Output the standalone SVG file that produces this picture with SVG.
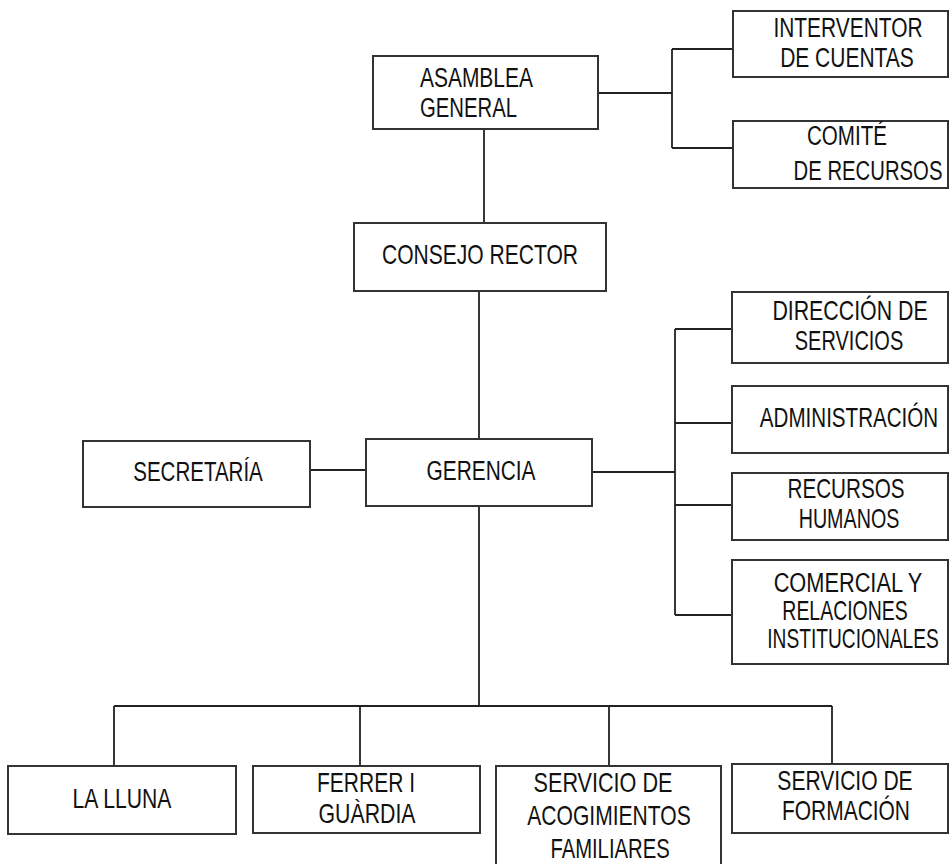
<svg xmlns="http://www.w3.org/2000/svg" width="950" height="864" viewBox="0 0 950 864">
<style>
.box{fill:#fff;stroke:#333;stroke-width:2}
.ln{fill:none;stroke:#222;stroke-width:1.8}
text{font-family:"Liberation Sans",Arial,sans-serif;font-size:27px;fill:#111;text-anchor:middle}
.st{text-anchor:start}
</style>
<rect width="950" height="864" fill="#fff"/>
<g id="connectors" class="ln">
<path d="M598,93H672M672,49V148M672,49H733M672,148H733"/>
<path d="M484,129V223"/>
<path d="M479,291V439"/>
<path d="M310,470H366"/>
<path d="M592,472H675M675,329V615M675,329H732M675,423H732M675,505H732M675,615H732"/>
<path d="M479,506V706M114,706H832M114,706V766M360,706V766M609,706V766M832,706V764"/>
</g>
<g id="asamblea"><rect class="box" x="373" y="56" width="225" height="73"/>
<text class="st" transform="translate(420,87) scale(0.776,1)">ASAMBLEA</text>
<text class="st" transform="translate(420,117) scale(0.752,1)">GENERAL</text></g>
<g id="interventor"><rect class="box" x="733" y="11" width="215" height="66"/>
<text transform="translate(848,37) scale(0.775,1)">INTERVENTOR</text>
<text transform="translate(847,67) scale(0.778,1)">DE CUENTAS</text></g>
<g id="comite"><rect class="box" x="733" y="121" width="215" height="67"/>
<text transform="translate(847,145) scale(0.762,1)">COMITÉ</text>
<text transform="translate(868,180) scale(0.752,1)">DE RECURSOS</text></g>
<g id="consejo"><rect class="box" x="354" y="223" width="252" height="68"/>
<text transform="translate(480,264) scale(0.78,1)">CONSEJO RECTOR</text></g>
<g id="secretaria"><rect class="box" x="83" y="441" width="227" height="66"/>
<text transform="translate(198,481) scale(0.76,1)">SECRETARÍA</text></g>
<g id="gerencia"><rect class="box" x="366" y="439" width="226" height="67"/>
<text transform="translate(481,480) scale(0.773,1)">GERENCIA</text></g>
<g id="direccion"><rect class="box" x="732" y="292" width="216" height="71"/>
<text transform="translate(850,320) scale(0.79,1)">DIRECCIÓN DE</text>
<text transform="translate(849,350) scale(0.74,1)">SERVICIOS</text></g>
<g id="administracion"><rect class="box" x="732" y="386" width="216" height="67"/>
<text transform="translate(849,427) scale(0.762,1)">ADMINISTRACIÓN</text></g>
<g id="rrhh"><rect class="box" x="732" y="473" width="216" height="67"/>
<text transform="translate(846,498) scale(0.765,1)">RECURSOS</text>
<text transform="translate(849,528) scale(0.73,1)">HUMANOS</text></g>
<g id="comercial"><rect class="box" x="732" y="560" width="216" height="104"/>
<text transform="translate(848,592) scale(0.806,1)">COMERCIAL Y</text>
<text transform="translate(845,620) scale(0.72,1)">RELACIONES</text>
<text transform="translate(853,648) scale(0.71,1)">INSTITUCIONALES</text></g>
<g id="lalluna"><rect class="box" x="8" y="766" width="228" height="68"/>
<text transform="translate(122,808) scale(0.784,1)">LA LLUNA</text></g>
<g id="ferrer"><rect class="box" x="253" y="766" width="227" height="67"/>
<text transform="translate(366,792) scale(0.778,1)">FERRER I</text>
<text transform="translate(367,823) scale(0.789,1)">GUÀRDIA</text></g>
<g id="acogimientos"><path class="box" d="M496,866V766H721V866"/>
<text transform="translate(603,792) scale(0.8,1)">SERVICIO DE</text>
<text transform="translate(609,825) scale(0.78,1)">ACOGIMIENTOS</text>
<text transform="translate(610,858) scale(0.75,1)">FAMILIARES</text></g>
<g id="formacion"><rect class="box" x="732" y="764" width="216" height="69"/>
<text transform="translate(845,790) scale(0.78,1)">SERVICIO DE</text>
<text transform="translate(846,820) scale(0.776,1)">FORMACIÓN</text></g>
</svg>
